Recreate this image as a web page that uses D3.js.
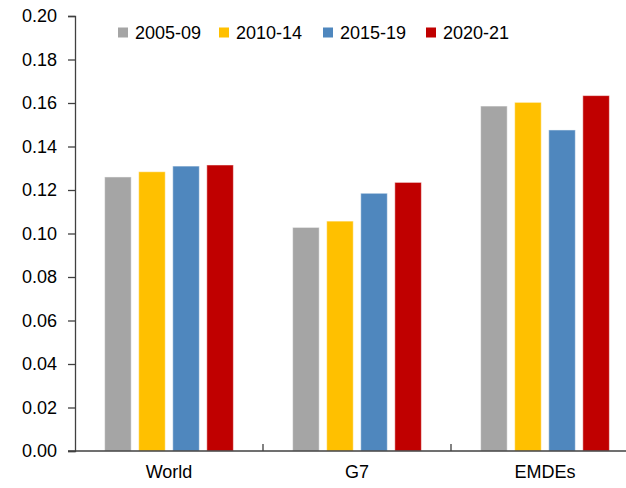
<!DOCTYPE html>
<html>
<head>
<meta charset="utf-8">
<script src="https://cdn.jsdelivr.net/npm/d3@7"></script>
<style>
  body { margin: 0; background: #fff; }
  text { font-family: "Liberation Sans", Arial, sans-serif; fill: #000; }
</style>
</head>
<body>
<div id="chart-area"></div>
<script>
const categories = ["World", "G7", "EMDEs"]
const periods = ["2005-09", "2010-14", "2015-19", "2020-21"]
const colors = ["#A5A5A5", "#FFC000", "#4F87BE", "#C00000"]

const v2005 = [0.126, 0.1028, 0.1586]
const v2010 = [0.1284, 0.1057, 0.1603]
const v2015 = [0.131, 0.1185, 0.1476]
const v2020 = [0.1315, 0.1235, 0.1634]
const series = [v2005, v2010, v2015, v2020]

const yTicks = [0, 0.02, 0.04, 0.06, 0.08, 0.10, 0.12, 0.14, 0.16, 0.18, 0.20]

const WIDTH = 626
const HEIGHT = 488

const svg = d3.select("#chart-area").append("svg")
  .attr("width", WIDTH)
  .attr("height", HEIGHT)

const x = d3.scaleBand()
  .domain(categories)
  .range([75, 639])

const xInner = d3.scaleBand()
  .domain(periods)
  .range([0, x.bandwidth()])
  .paddingInner(0.22)
  .paddingOuter(0.87)

const y = d3.scaleLinear()
  .domain([0, 0.2])
  .range([451, 16])

// bars
categories.forEach((c, ci) => {
  svg.append("g")
    .attr("transform", `translate(${x(c)}, 0)`)
    .selectAll("rect")
    .data(periods.map((p, pi) => ({p, pi, v: series[pi][ci]})))
    .enter().append("rect")
    .attr("x", d => xInner(d.p))
    .attr("width", xInner.bandwidth())
    .attr("y", d => y(d.v))
    .attr("height", d => y(0) - y(d.v))
    .attr("fill", d => colors[d.pi])
    .attr("stroke", "#fff")
    .attr("stroke-opacity", 0.5)
    .attr("stroke-width", 1)
})

// y axis
const yAxisCall = d3.axisLeft(y)
  .tickValues(yTicks)
  .tickFormat(d3.format(".2f"))
  .tickSizeOuter(0)
  .tickSize(7)
  .tickPadding(11)

const yAxisGroup = svg.append("g")
  .attr("transform", "translate(75, 0)")
  .call(yAxisCall)
yAxisGroup.select(".domain").attr("stroke", "#404040").attr("stroke-width", 1.3)
yAxisGroup.selectAll(".tick line").attr("stroke", "#404040").attr("stroke-width", 1.3)
yAxisGroup.selectAll("text")
  .attr("font-size", "18px")
  .style("font-family", "Liberation Sans, Arial, sans-serif")
  .attr("fill", "#111")

// x axis
const xAxisGroup = svg.append("g")
  .attr("transform", `translate(0, ${y(0)})`)
xAxisGroup.append("line")
  .attr("x1", 68).attr("x2", WIDTH)
  .attr("stroke", "#404040").attr("stroke-width", 1.3)
xAxisGroup.selectAll(".xtick")
  .data(categories.slice(1))
  .enter().append("line")
  .attr("x1", d => x(d)).attr("x2", d => x(d))
  .attr("y1", 0).attr("y2", -7)
  .attr("stroke", "#404040").attr("stroke-width", 1.3)
xAxisGroup.selectAll(".xlabel")
  .data(categories)
  .enter().append("text")
  .attr("x", d => x(d) + x.bandwidth() / 2)
  .attr("y", 27)
  .attr("text-anchor", "middle")
  .attr("font-size", "18px")
  .attr("fill", "#111")
  .text(d => d)

// legend
const legendX = [118, 219, 323, 426]
const legend = svg.append("g")
periods.forEach((p, i) => {
  const lg = legend.append("g").attr("transform", `translate(${legendX[i]}, 27.5)`)
  lg.append("rect")
    .attr("width", 10).attr("height", 10)
    .attr("fill", colors[i])
  lg.append("text")
    .attr("x", 17).attr("y", 11.5)
    .attr("font-size", "18px")
    .attr("fill", "#111")
    .text(p)
})
</script>
</body>
</html>
